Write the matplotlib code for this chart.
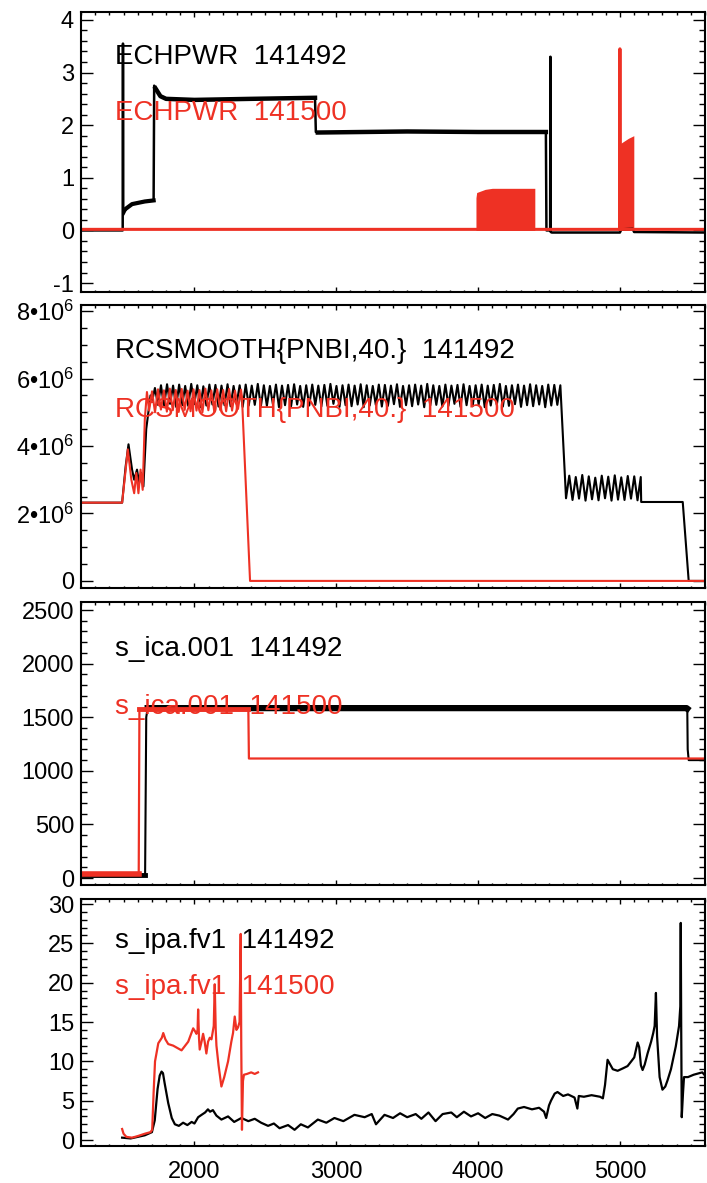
import numpy as np
import matplotlib.pyplot as plt
from matplotlib.ticker import MultipleLocator

plt.rcParams['font.family'] = ['Liberation Sans', 'DejaVu Sans']
plt.rcParams['mathtext.fontset'] = 'custom'
plt.rcParams['mathtext.rm'] = 'Liberation Sans'
plt.rcParams['mathtext.it'] = 'Liberation Sans:italic'
plt.rcParams['axes.unicode_minus'] = False

RED = '#ee3124'

# ---------------------------------------------------------
# Panel 1: ECHPWR
# ---------------------------------------------------------
echp_t_black = [1200, 1494, 1496, 1498, 1520, 1560, 1650, 1712, 1716, 1725, 1760, 1800,
                2000, 2400, 2850, 2856, 2870, 3500, 4000, 4478, 4482, 4508, 4510, 4512,
                4520, 5000, 5010, 5090, 5100, 5600]
echp_v_black = [0.0, 0.0, 3.55, 0.3, 0.42, 0.5, 0.55, 0.57, 2.75, 2.7, 2.55, 2.5,
                2.48, 2.5, 2.52, 1.87, 1.86, 1.88, 1.87, 1.87, 0.0, 0.0, 3.3, -0.03,
                -0.04, -0.04, 0.02, 0.03, -0.03, -0.04]
echp_t_red = [1200, 4999, 5000, 5001, 5600]
echp_v_red = [0.02, 0.02, 3.45, 0.02, 0.02]
echp_blk1_t = [3985, 3990, 4050, 4100, 4250, 4400]
echp_blk1_v = [0.62, 0.72, 0.78, 0.80, 0.80, 0.80]
echp_blk2_t = [5003, 5020, 5060, 5098]
echp_blk2_v = [1.65, 1.68, 1.75, 1.80]

# ---------------------------------------------------------
# Panel 2: RCSMOOTH{PNBI,40.}  (values in units of 1e6)
# ---------------------------------------------------------
rc_head_t_black = [1200, 1490, 1515, 1535, 1560, 1575, 1595, 1610, 1625, 1640, 1660, 1690]
rc_head_v_black = [2.32, 2.32, 3.4, 4.05, 3.3, 3.0, 3.3, 2.9, 3.2, 2.8, 4.5, 5.5]
rc_black_hi = [5.72, 5.80, 5.83, 5.79, 5.82, 5.78, 5.84, 5.80, 5.77, 5.82, 5.81, 5.79, 5.83, 5.78, 5.80, 5.82, 5.79,
               5.84, 5.80, 5.78, 5.82, 5.79, 5.81, 5.83, 5.78, 5.80, 5.82, 5.79, 5.81, 5.84, 5.78, 5.80, 5.82, 5.79,
               5.83, 5.80, 5.78, 5.82, 5.81, 5.79, 5.83, 5.78, 5.80, 5.82, 5.79, 5.84, 5.80, 5.78, 5.82, 5.79, 5.81,
               5.83, 5.78, 5.80, 5.82, 5.79, 5.81, 5.84, 5.78, 5.80, 5.82, 5.79, 5.83, 5.80, 5.78, 5.82, 5.81, 5.80]
rc_black_lo = [5.30, 5.22, 5.18, 5.25, 5.16, 5.21, 5.19, 5.24, 5.15, 5.20, 5.23, 5.17, 5.21, 5.18, 5.25, 5.16, 5.20,
               5.22, 5.17, 5.19, 5.24, 5.15, 5.21, 5.18, 5.23, 5.16, 5.20, 5.22, 5.17, 5.19, 5.25, 5.16, 5.21, 5.18,
               5.23, 5.15, 5.20, 5.22, 5.17, 5.19, 5.24, 5.16, 5.21, 5.18, 5.23, 5.15, 5.20, 5.22, 5.17, 5.19, 5.25,
               5.16, 5.21, 5.18, 5.23, 5.15, 5.20, 5.22, 5.17, 5.19, 5.24, 5.16, 5.21, 5.18, 5.23, 5.15, 5.20, 5.22]
rc_black_hi2 = [3.12, 3.08, 3.14, 3.10, 3.06, 3.12, 3.09, 3.13, 3.07, 3.11, 3.10, 3.08]
rc_black_lo2 = [2.45, 2.40, 2.44, 2.38, 2.42, 2.39, 2.45, 2.38, 2.41, 2.40, 2.44, 2.39]
rc_tail_t_black = [5150, 5443, 5485, 5600]
rc_tail_v_black = [2.34, 2.34, 0.0, 0.0]

rc_head_t_red = [1200, 1490, 1515, 1530, 1555, 1575, 1590, 1605, 1620, 1635, 1650, 1665]
rc_head_v_red = [2.32, 2.32, 3.3, 3.9, 3.0, 2.6, 3.2, 2.6, 3.3, 2.7, 4.8, 5.6]
rc_red_hi = [5.62, 5.68, 5.65, 5.70, 5.66, 5.69, 5.64, 5.68, 5.66, 5.70, 5.65, 5.68, 5.66, 5.69, 5.64, 5.67]
rc_red_lo = [5.05, 5.00, 5.08, 5.02, 5.06, 5.01, 5.07, 5.03, 5.05, 5.00, 5.06, 5.02, 5.07, 5.03, 5.05, 5.10]
rc_tail_t_red = [2335, 2392, 5600]
rc_tail_v_red = [5.45, 0.0, 0.0]

# ---------------------------------------------------------
# Panel 3: s_ica.001
# ---------------------------------------------------------
ica_t_black = [1200, 1645, 1652, 1660, 1670, 5470, 5475, 5478, 5485, 5600]
ica_v_black = [30, 30, 30, 1500, 1585, 1585, 1580, 1200, 1100, 1100]
ica_t_red = [1200, 1607, 1612, 2380, 2384, 5600]
ica_v_red = [35, 35, 1575, 1575, 1115, 1115]

# ---------------------------------------------------------
# Panel 4: s_ipa.fv1
# ---------------------------------------------------------
ipa_t_black = [1490, 1550, 1600, 1650, 1700, 1720, 1740, 1755, 1768, 1778, 1790, 1815, 1840, 1862, 1890,
               1920, 1950, 1980, 2000, 2026, 2050, 2075, 2095, 2110, 2130, 2155, 2190, 2237, 2280, 2331,
               2380, 2425, 2470, 2519, 2560, 2600, 2660, 2706, 2750, 2800, 2870, 2930, 2987, 3050, 3128,
               3200, 3250, 3280, 3340, 3400, 3450, 3500, 3560, 3600, 3650, 3700, 3750, 3811, 3850, 3900,
               3950, 4000, 4050, 4100, 4150, 4211, 4250, 4280, 4324, 4380, 4430, 4465, 4480, 4500, 4514,
               4540, 4560, 4600, 4634, 4680, 4700, 4710, 4746, 4800, 4860, 4880, 4895, 4913, 4950, 4984,
               5020, 5054, 5080, 5101, 5125, 5136, 5148, 5160, 5175, 5195, 5220, 5235, 5245, 5254, 5262,
               5280, 5300, 5320, 5336, 5360, 5394, 5417, 5426, 5429, 5432, 5436, 5445, 5452, 5480, 5520,
               5560, 5581, 5600]
ipa_v_black = [0.3, 0.2, 0.4, 0.6, 1.0, 2.5, 6.5, 8.2, 8.7, 8.5, 7.2, 4.7, 2.8, 2.0, 1.8,
               2.2, 1.9, 2.3, 2.1, 2.9, 3.2, 3.5, 3.9, 3.6, 3.8, 3.1, 2.6, 3.0, 2.3, 2.8,
               2.4, 2.7, 2.2, 1.8, 2.1, 1.5, 1.9, 1.3, 2.0, 1.6, 2.6, 2.2, 2.8, 2.4, 3.2,
               2.9, 3.3, 2.0, 3.2, 2.8, 3.4, 2.9, 3.3, 2.7, 3.5, 2.4, 3.3, 3.5, 2.9, 3.6,
               3.0, 3.4, 2.8, 3.3, 3.1, 2.6, 3.3, 4.0, 4.2, 3.9, 4.1, 3.6, 2.8, 4.4, 5.0,
               5.9, 6.1, 5.6, 5.8, 5.4, 4.0, 5.6, 5.5, 5.7, 5.5, 5.3, 7.0, 10.2, 9.0, 8.8,
               9.1, 9.4, 10.0, 10.5, 12.4, 11.8, 9.5, 8.9, 9.6, 11.0, 12.5, 13.6, 14.5, 18.7, 13.2,
               8.0, 6.4, 6.8, 7.6, 9.0, 11.9, 14.5, 17.0, 27.6, 15.0, 2.9, 6.0, 8.0, 8.0, 8.3,
               8.5, 8.6, 8.2]
ipa_t_red = [1490, 1500, 1520, 1560, 1600, 1650, 1690, 1702, 1712, 1722, 1745, 1770, 1780, 1795, 1815,
             1850, 1909, 1956, 1991, 2005, 2014, 2022, 2026, 2032, 2037, 2050, 2061, 2072, 2084, 2096,
             2108, 2120, 2136, 2143, 2150, 2155, 2170, 2190, 2210, 2237, 2260, 2272, 2284, 2296, 2307,
             2318, 2326, 2330, 2335, 2342, 2349, 2370, 2400, 2425, 2448]
ipa_v_red = [1.4, 0.8, 0.4, 0.3, 0.5, 0.8, 1.0, 1.3, 6.0, 10.0, 12.3, 13.0, 13.6, 12.8, 12.2,
             12.0, 11.4, 12.5, 14.2, 13.8, 13.5, 14.0, 16.6, 13.0, 11.5, 12.5, 13.5, 12.5, 11.0, 12.5,
             13.0, 12.8, 14.5, 19.8, 14.0, 12.0, 9.5, 6.8, 8.0, 10.0, 12.5, 13.6, 15.7, 14.0, 14.3,
             15.0, 26.2, 12.0, 1.3, 7.5, 8.3, 8.4, 8.6, 8.4, 8.6]

x_ticks = [2000, 3000, 4000, 5000]


def zigzag(t0, t1, hi, lo):
    """Interleave trough/peak values over evenly spaced times."""
    vals = np.column_stack([lo, hi]).ravel()
    return np.linspace(t0, t1, len(vals)), vals


def style_axes(ax, yminor, show_x):
    ax.set_xlim(1200, 5600)
    ax.set_xticks(x_ticks)
    ax.xaxis.set_minor_locator(MultipleLocator(100))
    ax.yaxis.set_minor_locator(MultipleLocator(yminor))
    ax.tick_params(axis='x', which='major', direction='in', length=3.6, width=1.0,
                   top=True, bottom=True, labelbottom=show_x, labelsize=17, pad=11)
    ax.tick_params(axis='x', which='minor', direction='in', length=1.8, width=1.0,
                   top=True, bottom=True)
    ax.tick_params(axis='y', which='major', direction='in', length=8.5, width=1.0,
                   left=True, right=True, labelsize=17, pad=5)
    ax.tick_params(axis='y', which='minor', direction='in', length=4.3, width=1.0,
                   left=True, right=True)
    for s in ax.spines.values():
        s.set_linewidth(1.5)


fig = plt.figure(figsize=(7.07, 11.83), dpi=100)
H = 1183.0
L, R = 81 / 707.0, 705 / 707.0
rects = [(12, 292), (305, 588), (602, 885), (899, 1146)]
axes = [fig.add_axes([L, 1 - b / H, R - L, (b - t) / H]) for t, b in rects]

# Panel 1
ax = axes[0]
ax.plot(echp_t_black, echp_v_black, color='black', lw=1.8)
# noisy plateaus look thicker
ax.plot(echp_t_black[4:8], echp_v_black[4:8], color='black', lw=3.0)
ax.plot(echp_t_black[9:15], echp_v_black[9:15], color='black', lw=3.2)
ax.plot(echp_t_black[16:20], echp_v_black[16:20], color='black', lw=3.2)
ax.plot(echp_t_red, echp_v_red, color=RED, lw=2.2)
ax.fill_between(echp_blk1_t, 0, echp_blk1_v, color=RED, lw=0)
ax.fill_between(echp_blk2_t, 0, echp_blk2_v, color=RED, lw=0)
ax.set_ylim(-1.17, 4.15)
ax.set_yticks([-1, 0, 1, 2, 3, 4])
style_axes(ax, 0.2, False)
ax.text(1440, 3.30, 'ECHPWR  141492', color='black', fontsize=20, va='center')
ax.text(1440, 2.23, 'ECHPWR  141500', color=RED, fontsize=20, va='center')

# Panel 2
ax = axes[1]
zt1, zv1 = zigzag(1700, 4580, rc_black_hi, rc_black_lo)
zt2, zv2 = zigzag(4620, 5147, rc_black_hi2, rc_black_lo2)
rc_t_black = np.concatenate([rc_head_t_black, zt1, zt2, rc_tail_t_black])
rc_v_black = np.concatenate([rc_head_v_black, zv1, zv2, rc_tail_v_black]) * 1e6
zt3, zv3 = zigzag(1680, 2328, rc_red_hi, rc_red_lo)
rc_t_red = np.concatenate([rc_head_t_red, zt3, rc_tail_t_red])
rc_v_red = np.concatenate([rc_head_v_red, zv3, rc_tail_v_red]) * 1e6
ax.plot(rc_t_black, rc_v_black, color='black', lw=1.5)
ax.plot(rc_t_red, rc_v_red, color=RED, lw=1.5)
ax.set_ylim(-0.21e6, 8.18e6)
ax.set_yticks([0, 2e6, 4e6, 6e6, 8e6],
              ['0', '2•10$^6$', '4•10$^6$', '6•10$^6$', '8•10$^6$'])
style_axes(ax, 0.5e6, False)
ax.text(1440, 6.81e6, 'RCSMOOTH{PNBI,40.}  141492', color='black', fontsize=20, va='center')
ax.text(1440, 5.07e6, 'RCSMOOTH{PNBI,40.}  141500', color=RED, fontsize=20, va='center')

# Panel 3
ax = axes[2]
ax.plot(ica_t_black, ica_v_black, color='black', lw=1.5)
ax.plot(ica_t_black[:3], ica_v_black[:3], color='black', lw=3.5)
ax.plot(ica_t_black[4:7], ica_v_black[4:7], color='black', lw=4.5)
ax.plot(ica_t_red, ica_v_red, color=RED, lw=1.6)
ax.plot(ica_t_red[:2], ica_v_red[:2], color=RED, lw=4.0)
ax.plot(ica_t_red[2:4], ica_v_red[2:4], color=RED, lw=3.5)
ax.set_ylim(-65, 2575)
ax.set_yticks([0, 500, 1000, 1500, 2000, 2500])
style_axes(ax, 100, False)
ax.text(1440, 2136, 's_ica.001  141492', color='black', fontsize=20, va='center')
ax.text(1440, 1595, 's_ica.001  141500', color=RED, fontsize=20, va='center')

# Panel 4
ax = axes[3]
ax.plot(ipa_t_black, ipa_v_black, color='black', lw=1.6)
ax.plot(ipa_t_red, ipa_v_red, color=RED, lw=1.6)
ax.set_ylim(-0.76, 30.64)
ax.set_yticks([0, 5, 10, 15, 20, 25, 30])
style_axes(ax, 1, True)
ax.text(1440, 25.3, 's_ipa.fv1  141492', color='black', fontsize=20, va='center')
ax.text(1440, 19.4, 's_ipa.fv1  141500', color=RED, fontsize=20, va='center')

fig.savefig('out.png', dpi=100)
